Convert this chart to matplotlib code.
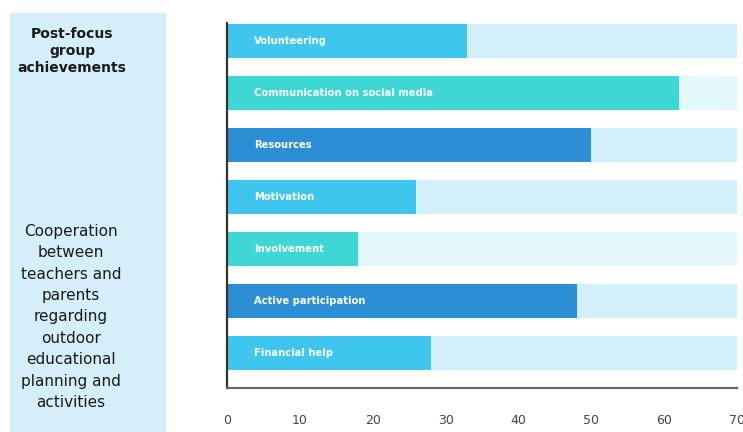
import matplotlib.pyplot as plt
import matplotlib.patches as patches

plt.rcParams['font.family'] = ['DejaVu Sans']

# data
categories = ["Volunteering", "Communication on social media", "Resources",
              "Motivation", "Involvement", "Active participation", "Financial help"]
values = [33, 62, 50, 26, 18, 48, 28]
kinds = ["light", "turquoise", "dark", "light", "turquoise", "dark", "light"]
x_max = 70
x_ticks = [0, 10, 20, 30, 40, 50, 60, 70]

bar_colors = {"light": "#3ec6ee", "turquoise": "#3dd8d4", "dark": "#2c8fd6"}
track_colors = {"light": "#d3f0fa", "turquoise": "#e3f8f8", "dark": "#d3f0fa"}

fig = plt.figure(figsize=(7.43, 4.32), dpi=100)

# left side panel
fig.patches.append(patches.Rectangle((10 / 743, 0), 156 / 743, 1 - 13 / 432,
                                     transform=fig.transFigure,
                                     facecolor="#d4eff9", edgecolor="none", zorder=0))
fig.text(72 / 743, 1 - 51 / 432, "Post-focus\ngroup\nachievements",
         ha="center", va="center", fontsize=10, fontweight="bold",
         color="#1a1a1a", linespacing=1.3)
fig.text(71 / 743, 1 - 317 / 432,
         "Cooperation\nbetween\nteachers and\nparents\nregarding\noutdoor\neducational\nplanning and\nactivities",
         ha="center", va="center", fontsize=11, color="#1a1a1a", linespacing=1.53)

ax = fig.add_axes([227 / 743, 1 - 388 / 432, 510 / 743, (388 - 23) / 432])

pos = list(range(len(categories)))
ax.barh(pos, [x_max] * len(pos), height=0.65,
        color=[track_colors[k] for k in kinds], zorder=1)
ax.barh(pos, values, height=0.65,
        color=[bar_colors[k] for k in kinds], zorder=2)

for p, name in zip(pos, categories):
    ax.text(3.7, p, name, ha="left", va="center", fontsize=7.2,
            fontweight="bold", color="white", zorder=3)

ax.set_xlim(0, x_max)
ax.set_ylim(6.67, -0.35)
ax.set_xticks(x_ticks)
ax.set_yticks([])
ax.tick_params(axis="x", length=0, pad=19, labelsize=9, labelcolor="#444444")

for side in ["top", "right"]:
    ax.spines[side].set_visible(False)
ax.spines["left"].set_color("#333333")
ax.spines["left"].set_linewidth(1.6)
ax.spines["bottom"].set_color("#666666")
ax.spines["bottom"].set_linewidth(1.6)

fig.savefig("out.png", dpi=100)
plt.close()
